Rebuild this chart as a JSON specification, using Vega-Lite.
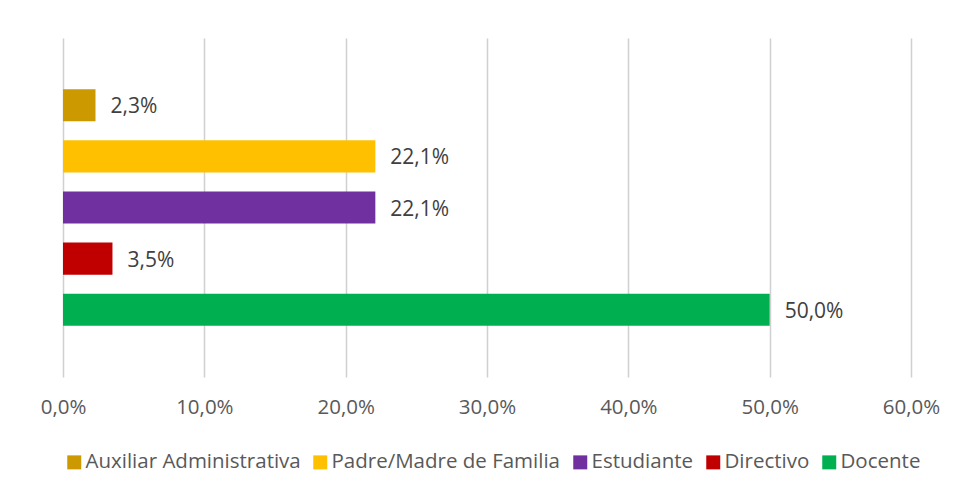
{
  "$schema": "https://vega.github.io/schema/vega-lite/v6.json",
  "width": 848,
  "height": 339,
  "autosize": "none",
  "padding": {"left": 63, "top": 38, "right": 50, "bottom": 118},
  "background": "white",
  "data": {
    "values": [
      {"rol": "Auxiliar Administrativa", "pct": 0.023},
      {"rol": "Padre/Madre de Familia", "pct": 0.221},
      {"rol": "Estudiante", "pct": 0.221},
      {"rol": "Directivo", "pct": 0.035},
      {"rol": "Docente", "pct": 0.5}
    ]
  },
  "encoding": {
    "y": {
      "field": "rol",
      "type": "nominal",
      "sort": ["Auxiliar Administrativa", "Padre/Madre de Familia", "Estudiante", "Directivo", "Docente"],
      "scale": {"paddingInner": 0.373, "paddingOuter": 1.02},
      "axis": null
    },
    "x": {
      "field": "pct",
      "type": "quantitative",
      "scale": {"domain": [0, 0.6], "nice": false},
      "axis": {
        "values": [0, 0.1, 0.2, 0.3, 0.4, 0.5, 0.6],
        "format": ".1%",
        "title": null,
        "grid": true,
        "gridColor": "#D0D0D0",
        "gridWidth": 1.5,
        "domain": false,
        "ticks": false,
        "labelFlush": false,
        "labelOverlap": false,
        "labelFont": "Open Sans",
        "labelFontSize": 20.5,
        "labelColor": "#595959",
        "labelPadding": 20
      }
    }
  },
  "layer": [
    {
      "mark": {"type": "bar"},
      "encoding": {
        "color": {
          "field": "rol",
          "type": "nominal",
          "scale": {
            "domain": ["Auxiliar Administrativa", "Padre/Madre de Familia", "Estudiante", "Directivo", "Docente"],
            "range": ["#CC9900", "#FFC000", "#7030A0", "#C00000", "#00B050"]
          },
          "legend": {
            "orient": "none",
            "direction": "horizontal",
            "columns": 5,
            "legendX": 1,
            "legendY": 414,
            "title": null,
            "padding": 0,
            "symbolType": "square",
            "symbolSize": 196,
            "symbolStrokeWidth": 0,
            "labelFont": "Open Sans",
            "labelFontSize": 20.5,
            "labelColor": "#595959",
            "labelOffset": 1,
            "labelLimit": 0,
            "columnPadding": 9
          }
        }
      }
    },
    {
      "mark": {
        "type": "text",
        "align": "left",
        "baseline": "middle",
        "dx": 15,
        "dy": 2,
        "font": "Open Sans",
        "fontSize": 21,
        "color": "#404040"
      },
      "encoding": {
        "text": {"field": "pct", "type": "quantitative", "format": ".1%"}
      }
    }
  ],
  "config": {
    "view": {"stroke": null},
    "locale": {
      "number": {
        "decimal": ",",
        "thousands": ".",
        "grouping": [3],
        "currency": ["", " €"]
      }
    }
  }
}
